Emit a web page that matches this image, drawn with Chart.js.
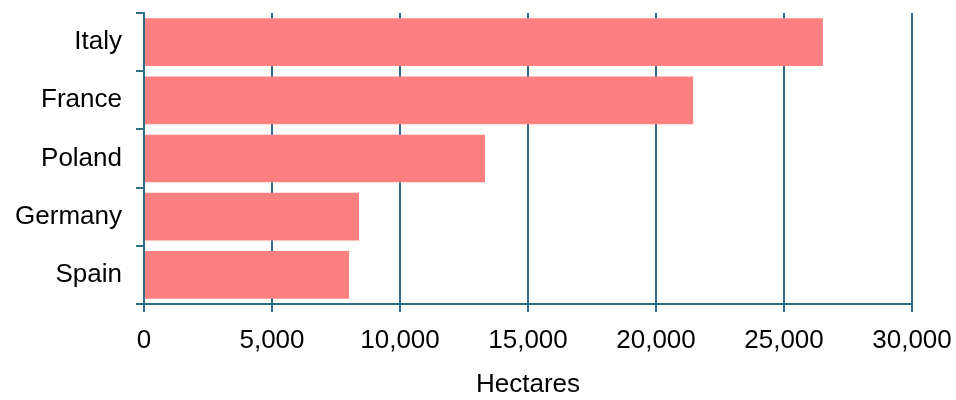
<!DOCTYPE html>
<html>
<head>
<meta charset="utf-8">
<script src="https://cdn.jsdelivr.net/npm/chart.js@4"></script>
<style>
html,body{margin:0;padding:0;background:#fff;}
#wrap{width:956px;height:400px;}
</style>
</head>
<body>
<div id="wrap"><canvas id="c" width="956" height="400"></canvas></div>
<script>
const categories = ["Italy", "France", "Poland", "Germany", "Spain"];
const hectares = [26520, 21450, 13320, 8400, 8010];
const xTicks = [0, 5000, 10000, 15000, 20000, 25000, 30000];
const axisTitle = "Hectares";

const lineColor = "#2F6F87";
const barColor = "#FF8080";
const font = {family: "'Liberation Sans', Arial, sans-serif", size: 26};

new Chart(document.getElementById('c'), {
  type: 'bar',
  data: {
    labels: categories,
    datasets: [{
      data: hectares,
      backgroundColor: barColor,
      borderWidth: 0,
      categoryPercentage: 1,
      barPercentage: 0.82
    }]
  },
  options: {
    indexAxis: 'y',
    responsive: false,
    animation: false,
    devicePixelRatio: 1,
    layout: {padding: {top: 13, right: 44, left: 0, bottom: 0}},
    plugins: {legend: {display: false}, tooltip: {enabled: false}},
    scales: {
      x: {
        min: 0, max: 30000,
        afterBuildTicks: s => { s.ticks = xTicks.map(v => ({value: v})); },
        afterFit: s => { s.height = 96; s.paddingLeft = 0; s.paddingRight = 0; },
        ticks: {color: '#000', font: font, padding: 13, maxRotation: 0,
          callback: v => v.toLocaleString('en-US')},
        grid: {color: lineColor, lineWidth: 2, tickLength: 8, drawOnChartArea: true},
        border: {display: true, color: lineColor, width: 2},
        title: {display: true, text: axisTitle, color: '#000', font: font, padding: {top: 3, bottom: 0}}
      },
      y: {
        afterFit: s => { s.width = 144; s.paddingTop = 0; s.paddingBottom = 0; },
        ticks: {color: '#000', font: font, padding: 14},
        grid: {color: lineColor, lineWidth: 2, tickLength: 8, drawOnChartArea: false, offset: true},
        border: {display: true, color: lineColor, width: 2}
      }
    }
  }
});
</script>
</body>
</html>
